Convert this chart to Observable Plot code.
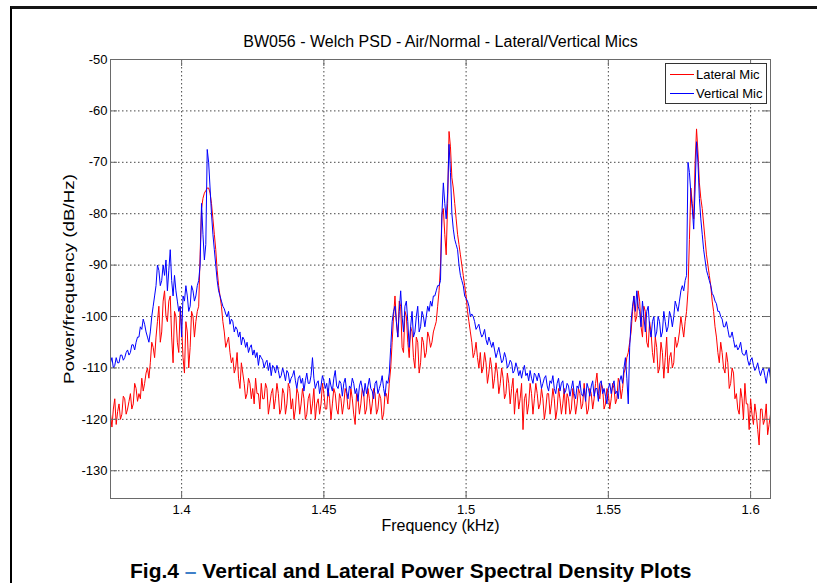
<!DOCTYPE html>
<html>
<head>
<meta charset="utf-8">
<script src="https://cdn.jsdelivr.net/npm/d3@7"></script>
<script src="https://cdn.jsdelivr.net/npm/@observablehq/plot@0.6"></script>
<style>
  body { margin: 0; background: #fff; font-family: "Liberation Sans", Arial, sans-serif; }
  #wrap { position: relative; width: 817px; height: 583px; overflow: hidden; background: #fff; }
  #chart { position: absolute; left: 0; top: 0; }
  #border { position: absolute; left: 10px; top: 6px; width: 900px; height: 700px; border-left: 2px solid #000; border-top: 3px solid #151515; }
  #legend { position: absolute; left: 665px; top: 63px; width: 100px; height: 39px; border: 1px solid #333; background: #fff;
            font-family: "Liberation Sans", Arial, sans-serif; font-size: 13px; color: #000; }
  #legend .sw { position: absolute; left: 4px; width: 24px; height: 0; }
  #legend .lb { position: absolute; left: 30px; line-height: 15px; white-space: nowrap; }
  #caption { position: absolute; left: 130px; top: 560px; line-height: 21px; font-size: 21px; font-weight: bold; color: #000; white-space: nowrap; }
  #caption .dash { color: #3f7fc8; }
</style>
</head>
<body>
<div id="wrap">
  <div id="chart"></div>
  <div id="legend"></div>
  <div id="caption"></div>
  <div id="border"></div>
</div>
<script>
// ---- data ----
const titleText = "BW056 - Welch PSD - Air/Normal - Lateral/Vertical Mics";
const xLabel = "Frequency (kHz)";
const yLabel = "Power/frequency (dB/Hz)";
const seriesNames = ["Lateral Mic", "Vertical Mic"];
const seriesColors = ["#ff0000", "#0000ff"];
const captionPrefix = "Fig.4";
const captionText = "Vertical and Lateral Power Spectral Density Plots";

const xTicks = [1.4, 1.45, 1.5, 1.55, 1.6];
const xTickLabels = ["1.4", "1.45", "1.5", "1.55", "1.6"];
const yTicks = [-130, -120, -110, -100, -90, -80, -70, -60, -50];
const yTickLabels = ["-130", "-120", "-110", "-100", "-90", "-80", "-70", "-60", "-50"];

const freqKHz = [
1.375,1.3755,1.376,1.3765,1.377,1.3775,1.378,1.3785,1.379,1.3795,1.38,1.3805,1.381,1.3815,1.382,1.3825,1.383,1.3835,1.384,1.3845,
1.385,1.3855,1.386,1.3865,1.387,1.3875,1.388,1.3885,1.389,1.3895,1.39,1.3905,1.391,1.3915,1.392,1.3925,1.393,1.3935,1.394,1.3945,
1.395,1.3955,1.396,1.3965,1.397,1.3975,1.398,1.3985,1.399,1.3995,1.4,1.4005,1.401,1.4015,1.402,1.4025,1.403,1.4035,1.404,1.4045,
1.405,1.4055,1.406,1.4065,1.407,1.4075,1.408,1.4085,1.409,1.4095,1.41,1.4105,1.411,1.4115,1.412,1.4125,1.413,1.4135,1.414,1.4145,
1.415,1.4155,1.416,1.4165,1.417,1.4175,1.418,1.4185,1.419,1.4195,1.42,1.4205,1.421,1.4215,1.422,1.4225,1.423,1.4235,1.424,1.4245,
1.425,1.4255,1.426,1.4265,1.427,1.4275,1.428,1.4285,1.429,1.4295,1.43,1.4305,1.431,1.4315,1.432,1.4325,1.433,1.4335,1.434,1.4345,
1.435,1.4355,1.436,1.4365,1.437,1.4375,1.438,1.4385,1.439,1.4395,1.44,1.4405,1.441,1.4415,1.442,1.4425,1.443,1.4435,1.444,1.4445,
1.445,1.4455,1.446,1.4465,1.447,1.4475,1.448,1.4485,1.449,1.4495,1.45,1.4505,1.451,1.4515,1.452,1.4525,1.453,1.4535,1.454,1.4545,
1.455,1.4555,1.456,1.4565,1.457,1.4575,1.458,1.4585,1.459,1.4595,1.46,1.4605,1.461,1.4615,1.462,1.4625,1.463,1.4635,1.464,1.4645,
1.465,1.4655,1.466,1.4665,1.467,1.4675,1.468,1.4685,1.469,1.4695,1.47,1.4705,1.471,1.4715,1.472,1.4725,1.473,1.4735,1.474,1.4745,
1.475,1.4755,1.476,1.4765,1.477,1.4775,1.478,1.4785,1.479,1.4795,1.48,1.4805,1.481,1.4815,1.482,1.4825,1.483,1.4835,1.484,1.4845,
1.485,1.4855,1.486,1.4865,1.487,1.4875,1.488,1.4885,1.489,1.4895,1.49,1.4905,1.491,1.4915,1.492,1.4925,1.493,1.4935,1.494,1.4945,
1.495,1.4955,1.496,1.4965,1.497,1.4975,1.498,1.4985,1.499,1.4995,1.5,1.5005,1.501,1.5015,1.502,1.5025,1.503,1.5035,1.504,1.5045,
1.505,1.5055,1.506,1.5065,1.507,1.5075,1.508,1.5085,1.509,1.5095,1.51,1.5105,1.511,1.5115,1.512,1.5125,1.513,1.5135,1.514,1.5145,
1.515,1.5155,1.516,1.5165,1.517,1.5175,1.518,1.5185,1.519,1.5195,1.52,1.5205,1.521,1.5215,1.522,1.5225,1.523,1.5235,1.524,1.5245,
1.525,1.5255,1.526,1.5265,1.527,1.5275,1.528,1.5285,1.529,1.5295,1.53,1.5305,1.531,1.5315,1.532,1.5325,1.533,1.5335,1.534,1.5345,
1.535,1.5355,1.536,1.5365,1.537,1.5375,1.538,1.5385,1.539,1.5395,1.54,1.5405,1.541,1.5415,1.542,1.5425,1.543,1.5435,1.544,1.5445,
1.545,1.5455,1.546,1.5465,1.547,1.5475,1.548,1.5485,1.549,1.5495,1.55,1.5505,1.551,1.5515,1.552,1.5525,1.553,1.5535,1.554,1.5545,
1.555,1.5555,1.556,1.5565,1.557,1.5575,1.558,1.5585,1.559,1.5595,1.56,1.5605,1.561,1.5615,1.562,1.5625,1.563,1.5635,1.564,1.5645,
1.565,1.5655,1.566,1.5665,1.567,1.5675,1.568,1.5685,1.569,1.5695,1.57,1.5705,1.571,1.5715,1.572,1.5725,1.573,1.5735,1.574,1.5745,
1.575,1.5755,1.576,1.5765,1.577,1.5775,1.578,1.5785,1.579,1.5795,1.58,1.5805,1.581,1.5815,1.582,1.5825,1.583,1.5835,1.584,1.5845,
1.585,1.5855,1.586,1.5865,1.587,1.5875,1.588,1.5885,1.589,1.5895,1.59,1.5905,1.591,1.5915,1.592,1.5925,1.593,1.5935,1.594,1.5945,
1.595,1.5955,1.596,1.5965,1.597,1.5975,1.598,1.5985,1.599,1.5995,1.6,1.6005,1.601,1.6015,1.602,1.6025,1.603,1.6035,1.604,1.6045,
1.605,1.6055,1.606,1.6065,1.607
];

const lateralDb = [
-119,-121.5,-118,-116,-121,-118.5,-117,-120,-119,-115.5,-116,-119,-118,-116.5,-115,-118,-117,-113,-114,-116.5,
-115,-116,-112,-114.5,-113,-111,-110,-112,-109,-105,-106,-108,-104,-101,-98,-105,-103,-97,-95,-100,
-101,-97,-96,-104,-109,-99,-100,-105,-107,-98,-102,-108,-111,-101,-103,-110,-106,-99,-100,-104,
-101,-99,-98,-88,-79,-77,-76,-75.5,-75,-75,-76,-78,-81,-84,-87,-91,-94,-96,-98,-101,
-103,-106,-105,-104,-107,-109,-108,-111,-110,-107,-112,-114,-109,-111,-113,-116,-115,-112,-113,-116,
-114,-117,-112,-115,-115,-118,-113,-116,-116,-113,-114,-119,-117,-115,-114,-118,-116,-113,-115,-119,
-118,-114,-115,-119,-117,-113,-114,-118,-116,-120,-118,-114,-115,-119,-117,-114,-116,-120,-119,-116,
-115,-119,-117,-114,-120,-117,-116,-119,-117,-113,-115,-118,-118,-114,-116,-120,-117,-114,-115,-118,
-119,-115,-116,-119,-117,-114,-115,-118,-118,-114,-116,-119,-121,-115,-116,-119,-117,-114,-115,-119,
-118,-114,-116,-119,-117,-114,-115,-119,-118,-115,-116,-120,-119,-115,-115,-117,-113,-110,-105,-100,
-96,-101,-104,-97,-98,-106,-107,-99,-100,-105,-108,-102,-103,-108,-110,-104,-105,-111,-109,-104,
-105,-108,-107,-103,-104,-106,-105,-103,-102,-101,-98,-95,-90,-80,-79,-84,-88,-78,-64,-67,
-73,-75,-78,-81,-84,-86,-88,-90,-92,-94,-96,-99,-101,-103,-105,-108,-107,-105,-108,-110,
-107,-111,-110,-107,-109,-113,-111,-108,-110,-114,-112,-109,-111,-115,-113,-110,-112,-116,-115,-111,
-113,-117,-114,-112,-119,-115,-114,-118,-116,-113,-122,-116,-115,-119,-117,-113,-115,-119,-116,-113,
-115,-118,-117,-114,-116,-120,-118,-115,-115,-119,-117,-114,-116,-120,-118,-114,-116,-119,-117,-114,
-119,-115,-116,-119,-118,-114,-116,-119,-117,-114,-115,-118,-117,-113,-116,-119,-118,-114,-115,-118,
-116,-113,-111,-115,-116,-113,-114,-118,-117,-114,-115,-118,-116,-113,-114,-117,-116,-112,-113,-116,
-114,-111,-110,-108,-107,-105,-103,-99,-96,-101,-100,-95,-97,-102,-104,-98,-99,-105,-106,-101,
-103,-107,-109,-104,-106,-111,-110,-105,-107,-112,-108,-104,-111,-108,-107,-110,-109,-104,-106,-105,
-103,-100,-102,-104,-101,-99,-95,-85,-75,-78,-81,-70,-63.5,-68,-74,-77,-79,-82,-85,-88,
-90,-92,-94,-97,-99,-102,-104,-107,-109,-105,-107,-110,-111,-107,-109,-114,-113,-110,-111,-116,
-115,-118,-119,-114,-116,-120,-113,-117,-117,-122,-116,-119,-121,-117,-119,-122,-125,-118,-118,-121,
-120,-117,-123,-121,-119
];

const verticalDb = [
-109,-108,-110,-109.5,-108,-109,-109,-107.5,-107.5,-108.5,-108,-107,-106.5,-107.5,-107,-105.5,-105.5,-106.5,-105,-104,
-104,-102,-102.5,-100.5,-101.5,-103,-104,-105,-103,-100,-98,-96,-94,-90,-91,-94,-93,-90,-92,-89,
-95,-91,-87,-93,-96,-92,-95,-97,-99,-98,-104,-96,-97,-94,-96,-99,-98,-94,-95,-97,
-96,-94,-93,-90,-78,-84,-89,-86,-67.5,-70,-75,-80,-84,-87,-90,-93,-95,-96,-97,-98,
-98.5,-99.5,-100,-99,-101.5,-100.5,-101,-103,-102,-102.5,-104,-103,-105.5,-104,-104.5,-106,-105,-107,-106,-105.5,
-107.5,-106.5,-108,-107,-109.5,-107.5,-108,-108.5,-110,-109,-108.5,-110.5,-109,-111.5,-109.5,-110,-111,-109.5,-110.5,-112,
-111.5,-110,-111,-112.5,-110.5,-111,-113,-112,-111.5,-110.5,-112.5,-114,-112,-111.5,-113,-112,-114.5,-112.5,-111,-113,
-113,-111.5,-108,-112,-114,-113,-112.5,-115,-113.5,-111.5,-112.5,-114,-113,-115.5,-112,-113.5,-114.5,-112,-110.5,-113.5,
-114,-112.5,-113,-115.5,-113,-112,-114.5,-116,-113.5,-114,-112,-113,-115,-114,-116.5,-113.5,-112.5,-114,-115.5,-113,
-115,-113.5,-112,-114,-114.5,-116,-113,-112.5,-115,-114,-113,-111.5,-114,-115.5,-112.5,-113,-111,-106,-101,-99,
-98,-101,-104,-99,-95,-100,-103,-98,-97,-101,-106,-102,-99,-104,-103,-100,-98,-103,-102,-99,
-100,-102,-100,-98,-99,-97,-98,-96,-96,-95,-94,-94,-93,-80,-74,-78,-81,-76,-66.5,-72,
-80,-83,-85,-86,-87,-90,-92,-93,-94,-96,-96.5,-97,-98,-100,-99.5,-100,-101,-102.5,-102,-101.5,
-103,-104,-103.5,-102.5,-104.5,-105.5,-104,-105,-106,-105,-106.5,-108,-107,-106,-107.5,-109,-108.5,-107,-108,-110,
-109.5,-108.5,-109,-111,-110.5,-109,-110,-111.5,-110.5,-112,-110.5,-109.5,-111.5,-111,-112.5,-110.5,-112,-113,-111,-111.5,
-112.5,-111,-112,-114,-113,-112,-111.5,-113.5,-114.5,-112.5,-113,-111.5,-114,-115,-113,-112,-114.5,-113,-112.5,-115,
-114.5,-113,-113.5,-115.5,-114,-112.5,-115,-116,-113.5,-114,-112.5,-115,-115.5,-114,-116.5,-113,-114,-115.5,-113.5,-112.5,
-115.5,-114,-114,-116.5,-113,-112.5,-115,-114,-115.5,-117,-114,-113,-115,-113.5,-112.5,-115,-114.5,-116,-112.5,-111.5,
-113,-110,-108,-112,-117,-106,-101,-98,-96,-99,-95,-98,-99,-102,-97,-100,-103,-99,-98,-102,
-104,-101,-100,-104,-103,-100,-101,-104,-103,-99,-101,-103,-102,-99,-100,-102,-100,-97,-98,-99,
-97,-95,-94,-95,-93,-92,-70,-72,-76,-79,-83,-75,-66,-70,-77,-81,-84,-87,-89,-91,
-92,-93,-94,-95.5,-96,-97,-97.5,-99,-99,-100,-100.5,-102,-102,-101,-102.5,-104,-104,-103,-104.5,-106,
-105.5,-106.5,-106,-105,-107,-107.5,-107.5,-106.5,-108.5,-109.5,-108.5,-108,-109.5,-110.5,-110,-109,-110.5,-111.5,-110.5,-110,
-111.5,-113,-111,-110,-112
];

// ---- build ----
const lateral = freqKHz.map((f, i) => ({f, v: lateralDb[i]}));
const vertical = freqKHz.map((f, i) => ({f, v: verticalDb[i]}));

const W = 817, H = 545;
const mL = 110, mR = 47, mT = 59, mB = 47;
const plotW = W - mL - mR, plotH = H - mT - mB;
const tickLen = 7;
const axisGray = "#6a6a6a";
const regular = "'Liberation Sans', Arial, sans-serif";

const chart = Plot.plot({
  width: W, height: H,
  marginLeft: mL, marginRight: mR, marginTop: mT, marginBottom: mB,
  x: {domain: [1.375, 1.607]},
  y: {domain: [-135.4, -50]},
  style: {background: "transparent", fontFamily: regular, fontSize: "13px", color: "#000"},
  marks: [
    Plot.gridX(xTicks, {stroke: "#333", strokeOpacity: 0.9, strokeDasharray: "1.5,2.5"}),
    Plot.gridY(yTicks, {stroke: "#333", strokeOpacity: 0.9, strokeDasharray: "1.5,2.5"}),
    Plot.line(lateral, {x: "f", y: "v", stroke: seriesColors[0], strokeWidth: 1, clip: true}),
    Plot.line(vertical, {x: "f", y: "v", stroke: seriesColors[1], strokeWidth: 1, clip: true}),
    Plot.frame({stroke: axisGray}),
    Plot.tickY(yTicks, {y: d => d, stroke: axisGray, insetRight: plotW - tickLen}),
    Plot.tickY(yTicks, {y: d => d, stroke: axisGray, insetLeft: plotW - tickLen}),
    Plot.tickX(xTicks, {x: d => d, stroke: axisGray, insetTop: plotH - tickLen}),
    Plot.tickX(xTicks, {x: d => d, stroke: axisGray, insetBottom: plotH - tickLen}),
    Plot.axisX(xTicks, {tickSize: 0, tickPadding: 6, label: null,
      tickFormat: d => xTickLabels[xTicks.indexOf(d)]}),
    Plot.axisY(yTicks, {tickSize: 0, tickPadding: 3, label: null,
      tickFormat: d => yTickLabels[yTicks.indexOf(d)]}),
    Plot.text([titleText], {text: d => d, frameAnchor: "top", lineAnchor: "middle", dy: -18, fontSize: 16, fontFamily: regular}),
    Plot.text([xLabel], {text: d => d, frameAnchor: "bottom", lineAnchor: "middle", dy: 27, fontSize: 16, fontFamily: regular}),
    Plot.text([yLabel], {text: d => d, frameAnchor: "left", textAnchor: "middle", lineAnchor: "middle", dx: -41, rotate: -90, fontSize: 14, fontFamily: regular})
  ]
});

chart.querySelectorAll("text").forEach(t => {
  if (t.textContent === yLabel) {
    t.setAttribute("textLength", 210);
    t.setAttribute("lengthAdjust", "spacingAndGlyphs");
  }
});
document.getElementById("chart").appendChild(chart);

// legend
const legend = document.getElementById("legend");
seriesNames.forEach((name, i) => {
  const cy = i === 0 ? 10 : 29;
  const sw = document.createElement("div");
  sw.className = "sw";
  sw.style.top = cy + "px";
  sw.style.borderTop = "1px solid " + seriesColors[i];
  legend.appendChild(sw);
  const lb = document.createElement("div");
  lb.className = "lb";
  lb.style.top = (cy - 7) + "px";
  lb.textContent = name;
  legend.appendChild(lb);
});

// caption
const cap = document.getElementById("caption");
cap.appendChild(document.createTextNode(captionPrefix + " "));
const dash = document.createElement("span");
dash.className = "dash";
dash.textContent = "\u2013";
cap.appendChild(dash);
cap.appendChild(document.createTextNode(" " + captionText));
</script>
</body>
</html>
